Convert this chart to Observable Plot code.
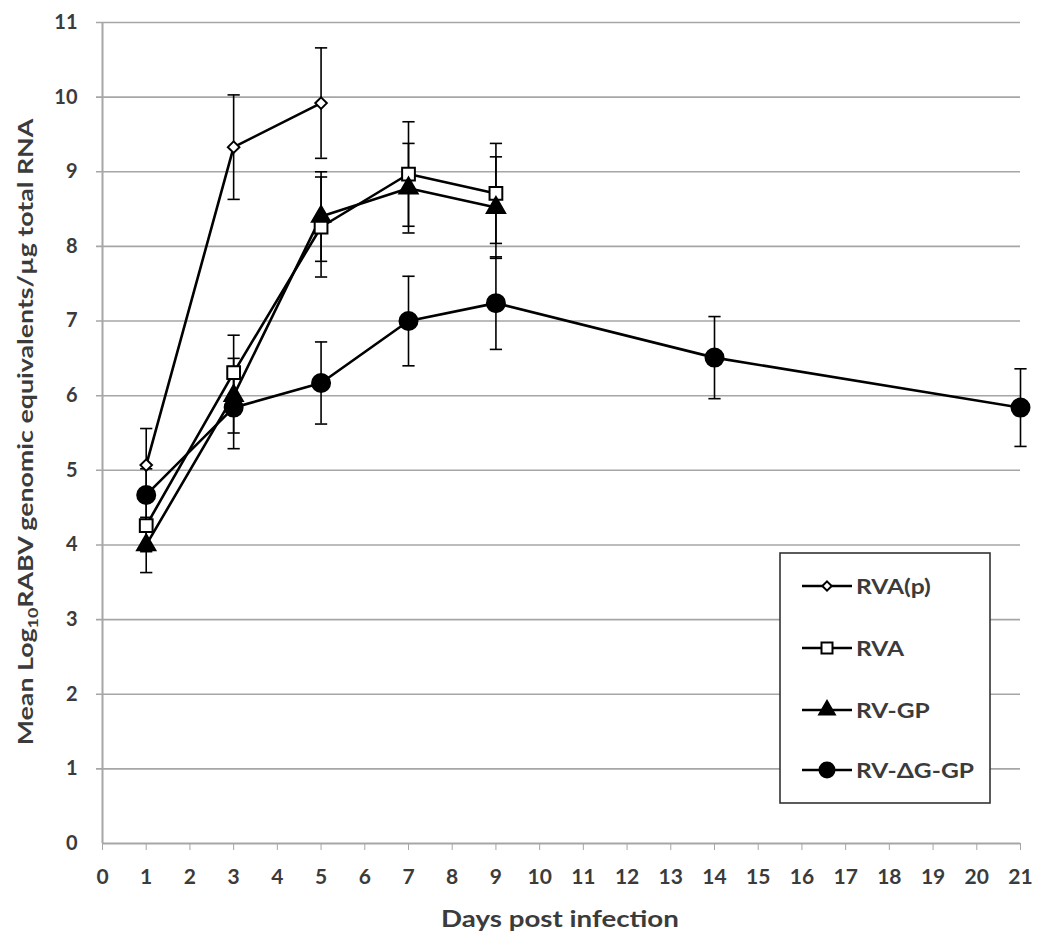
<!DOCTYPE html>
<html>
<head>
<meta charset="utf-8">
<script src="https://cdn.jsdelivr.net/npm/d3@7"></script>
<script src="https://cdn.jsdelivr.net/npm/@observablehq/plot@0.6"></script>
<style>
  html, body { margin: 0; padding: 0; background: #fff; }
  #wrap { position: relative; width: 1050px; height: 951px; }
  #wrap svg text { font-family: Lato, "Open Sans", sans-serif; }
</style>
</head>
<body>
<div id="wrap"></div>
<script>
// ---- data ----
const seriesNames = ["RVA(p)", "RVA", "RV-GP", "RV-ΔG-GP"];

const daysRVAp = [1, 3, 5];
const meanRVAp = [5.07, 9.33, 9.92];
const errRVAp  = [0.49, 0.70, 0.74];

const daysRVA = [1, 3, 5, 7, 9];
const meanRVA = [4.26, 6.31, 8.26, 8.97, 8.71];
const errRVA  = [0.35, 0.50, 0.67, 0.70, 0.67];

const daysRVGP = [1, 3, 5, 7, 9];
const meanRVGP = [4.00, 6.00, 8.40, 8.78, 8.52];
const errRVGP  = [0.37, 0.50, 0.60, 0.60, 0.68];

const daysDG = [1, 3, 5, 7, 9, 14, 21];
const meanDG = [4.67, 5.84, 6.17, 7.00, 7.24, 6.51, 5.84];
const errDG  = [0.35, 0.55, 0.55, 0.60, 0.62, 0.55, 0.52];

const xTicks = d3.range(0, 22);
const yTicks = d3.range(0, 12);

const xTitle = "Days post infection";
const yTitleParts = ["Mean Log", "10", "RABV genomic equivalents/µg total RNA"];

// ---- build table ----
function rows(name, days, mean, err) {
  return days.map((d, i) => ({series: name, day: d, mean: mean[i], lo: mean[i] - err[i], hi: mean[i] + err[i]}));
}
const data = [
  ...rows(seriesNames[3], daysDG, meanDG, errDG),
  ...rows(seriesNames[2], daysRVGP, meanRVGP, errRVGP),
  ...rows(seriesNames[1], daysRVA, meanRVA, errRVA),
  ...rows(seriesNames[0], daysRVAp, meanRVAp, errRVAp)
];

const style = {
  "RVA(p)":   {symbol: "diamond2", r: 5.2, fill: "white", lr: 4.2},
  "RVA":      {symbol: "square",   r: 7.2, fill: "white", lr: 6.2},
  "RV-GP":    {symbol: "triangle", r: 6.8, fill: "black", lr: 5.8},
  "RV-ΔG-GP": {symbol: "circle",   r: 9,   fill: "black", lr: 7.5}
};

const capW = 0.14;
const grid = "#a6a6a6";
const txt = "#3b3b3b";

const marks = [
  Plot.ruleY(yTicks.filter(v => v > 0), {stroke: grid, strokeWidth: 1.6, insetLeft: -6}),
  Plot.ruleY([0], {stroke: grid, strokeWidth: 2}),
  Plot.ruleX([0], {stroke: grid, strokeWidth: 2}),
  Plot.axisX({ticks: xTicks, tickSize: 7, tickPadding: 19, stroke: grid, fontSize: 21, fontWeight: "bold", fill: txt, label: null}),
  Plot.axisY({ticks: yTicks, tickSize: 0, tickPadding: 25, fontSize: 20, fontWeight: "bold", fill: txt, label: null}),
  // error bars
  Plot.ruleX(data, {x: "day", y1: "lo", y2: "hi", stroke: "black", strokeWidth: 1.6}),
  Plot.link(data, {x1: d => d.day - capW, x2: d => d.day + capW, y1: "hi", y2: "hi", stroke: "black", strokeWidth: 1.6}),
  Plot.link(data, {x1: d => d.day - capW, x2: d => d.day + capW, y1: "lo", y2: "lo", stroke: "black", strokeWidth: 1.6}),
];
for (const s of seriesNames) {
  const sub = data.filter(d => d.series === s);
  marks.push(Plot.line(sub, {x: "day", y: "mean", stroke: "black", strokeWidth: 2.6}));
}
for (const s of seriesNames) {
  const sub = data.filter(d => d.series === s);
  const st = style[s];
  marks.push(Plot.dot(sub, {x: "day", y: "mean", symbol: () => st.symbol, r: st.r, fill: st.fill, stroke: "black", strokeWidth: 2}));
}

const chart = Plot.plot({
  width: 1050,
  height: 951,
  marginLeft: 102,
  marginRight: 30,
  marginTop: 22,
  marginBottom: 108,
  x: {domain: [0, 21]},
  y: {domain: [0, 11]},
  symbol: {type: "identity"},
  style: {fontFamily: "Lato, 'Open Sans', sans-serif", color: txt, background: "white"},
  marks
});
document.getElementById("wrap").appendChild(chart);

const svg = d3.select(chart);

// x-axis title
const xt = svg.append("text")
  .attr("text-anchor", "middle")
  .attr("font-size", 21).attr("font-weight", "bold").attr("fill", txt)
  .text(xTitle);
{
  const s = 238 / xt.node().getComputedTextLength();
  xt.attr("transform", `translate(560,927) scale(${s},1.05)`);
}

// y-axis title with subscript
const yt = svg.append("text")
  .attr("text-anchor", "middle")
  .attr("font-size", 21).attr("font-weight", "bold").attr("fill", txt);
yt.append("tspan").text(yTitleParts[0]);
yt.append("tspan").attr("font-size", 14).attr("dy", 5).text(yTitleParts[1]);
yt.append("tspan").attr("dy", -5).text(yTitleParts[2]);
{
  const s = 627 / yt.node().getComputedTextLength();
  yt.attr("transform", `translate(33,432) rotate(-90) scale(${s},1)`);
}

// legend (inside plot, built from seriesNames and style)
const lg = svg.append("g").attr("transform", "translate(780,553)");
lg.append("rect").attr("width", 210).attr("height", 250).attr("fill", "white").attr("stroke", "#333").attr("stroke-width", 1.6);
const rowY = [33, 95, 157, 217];
const symMap = {diamond2: d3.symbolDiamond2, square: d3.symbolSquare, triangle: d3.symbolTriangle, circle: d3.symbolCircle};
const texts = [];
seriesNames.forEach((s, i) => {
  const g = lg.append("g").attr("transform", `translate(0,${rowY[i]})`);
  g.append("line").attr("x1", 22).attr("x2", 72).attr("stroke", "black").attr("stroke-width", 2.4);
  const st = style[s];
  g.append("path").attr("transform", "translate(47,0)")
    .attr("d", d3.symbol(symMap[st.symbol], Math.PI * st.lr ** 2)())
    .attr("fill", st.fill).attr("stroke", "black").attr("stroke-width", 2);
  const t = g.append("text").attr("text-anchor", "start").attr("dy", "0.36em")
    .attr("font-size", 21).attr("font-weight", "bold").attr("fill", txt).text(s);
  texts.push(t);
});
{
  const s = 118 / texts[3].node().getComputedTextLength();
  texts.forEach(t => t.attr("transform", `translate(76,0) scale(${s},1)`));
}
</script>
</body>
</html>
